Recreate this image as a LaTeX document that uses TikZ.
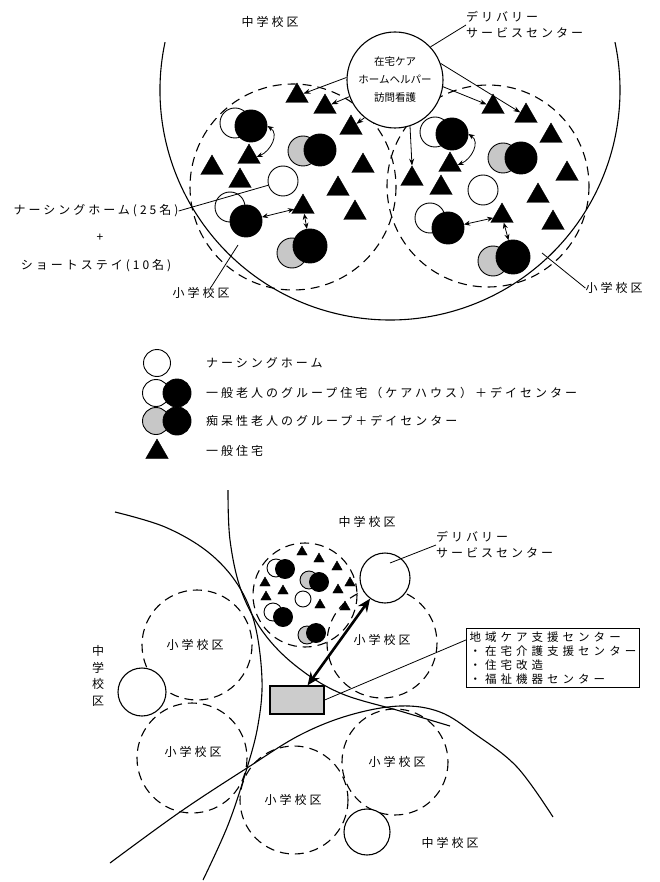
\documentclass[tikz,border=0pt]{standalone}
\usepackage{fontspec}
\setmainfont{Noto Sans CJK JP}
\newfontfamily\jp[LetterSpace=25]{Noto Sans CJK JP}
\newfontfamily\jpb[LetterSpace=35]{Noto Sans CJK JP}
\newfontfamily\jpn{Noto Sans CJK JP}
\usetikzlibrary{shapes.geometric,arrows.meta,calc}
\begin{document}
\begin{tikzpicture}[x=1pt,y=-1pt,
  big/.style={line width=1.1pt},
  dsh/.style={line width=1.1pt, dash pattern=on 9pt off 6pt},
  wc/.style={circle,draw,fill=white,line width=0.9pt,minimum size=#1,inner sep=0pt},
  bc/.style={circle,draw,fill=black,line width=0.9pt,minimum size=#1,inner sep=0pt},
  gc/.style={circle,draw,fill=black!22,line width=0.9pt,minimum size=#1,inner sep=0pt},
  tri/.style={regular polygon,regular polygon sides=3,fill=black,draw=black,line width=0.4pt,minimum size=#1,inner sep=0pt},
  lab/.style={font=\jp\fontsize{12}{16}\selectfont, inner sep=0pt},
  thinl/.style={line width=0.8pt},
  arr/.style={-{Stealth[length=7pt,width=5pt]},line width=0.8pt},
  darr/.style={{Stealth[length=6pt,width=5pt]}-{Stealth[length=6pt,width=5pt]},line width=0.8pt},
]
\useasboundingbox (0,0) rectangle (660,882);

% ================= TOP DIAGRAM =================
\draw[big] (390,90) ++(192:230) arc[start angle=192,end angle=-12,radius=230];
\draw[dsh] (293,187) circle[radius=103];
\draw[dsh] (488,186) circle[radius=101];

\node[lab] (chu1) at (270,22) {中学校区};
\node[circle,draw,fill=white,line width=1.1pt,minimum size=96,inner sep=0pt,align=center,font=\jpn\fontsize{10.5}{18}\selectfont] (hc) at (395,80) {在宅ケア\\ホームヘルパー\\訪問看護};
\node[lab,anchor=west,align=left] (deli1) at (466,25) {デリバリー\\サービスセンター};
\draw[thinl] (hc.43) -- (deli1.west);

% left cluster
\node[wc=30] (LW1) at (235,123) {};
\node[bc=32] (LB1) at (251,126) {};
\node[gc=30] (LG2) at (303,151) {};
\node[bc=32] (LB2) at (320,150) {};
\node[wc=30] (LN) at (283,181) {};
\node[wc=30] (LW3) at (230,207) {};
\node[bc=32] (LB3) at (246,221) {};
\node[gc=30] (LG4) at (292,253) {};
\node[bc=34] (LB4) at (310,246) {};
\node[tri=26] (t1) at (297,96) {};
\node[tri=26] (t2) at (325,107) {};
\node[tri=26] (t3) at (351,128) {};
\node[tri=26] (t4) at (249,157) {};
\node[tri=26] (t5) at (212,168) {};
\node[tri=26] (t6) at (240,181) {};
\node[tri=26] (t7) at (363,166) {};
\node[tri=26] (t8) at (338,189) {};
\node[tri=26] (t9) at (355,213) {};
\node[tri=26] (t10) at (303,207) {};

% right cluster
\node[wc=30] (RW1) at (435,132) {};
\node[bc=32] (RB1) at (452,134) {};
\node[gc=30] (RG2) at (503,158) {};
\node[bc=32] (RB2) at (521,158) {};
\node[wc=30] (RN) at (483,190) {};
\node[wc=30] (RW3) at (430,218) {};
\node[bc=32] (RB3) at (448,228) {};
\node[gc=30] (RG4) at (493,261) {};
\node[bc=34] (RB4) at (513,257) {};
\node[tri=26] (r1) at (493,107) {};
\node[tri=26] (r2) at (526,116) {};
\node[tri=26] (r3) at (551,136) {};
\node[tri=26] (r4) at (450,165) {};
\node[tri=26] (r5) at (412,179) {};
\node[tri=26] (r6) at (441,188) {};
\node[tri=26] (r7) at (567,174) {};
\node[tri=26] (r8) at (538,196) {};
\node[tri=26] (r9) at (553,223) {};
\node[tri=26] (r10) at (502,216) {};

% arrows from home care
\draw[arr] (hc.177) -- (t1);
\draw[arr] (hc.200) -- (t2);
\draw[arr] (hc.231) -- (t3);
\draw[arr] (hc.-8) -- (r1);
\draw[arr] (hc.20) -- (r2);
\draw[arr] (hc.-72) -- (r5.north);
% links
\draw[darr] (LB1.east) .. controls +(12,8) and +(14,-6) .. (t4.east);
\draw[darr] (RB1.east) .. controls +(12,8) and +(14,-6) .. (r4.east);
\draw[darr] (LB3) -- (t10);
\draw[darr] (t10) -- (LB4);
\draw[darr] (RB3) -- (r10);
\draw[darr] (r10) -- (RB4);

% labels left
\node[lab] (nh) at (96,211) {ナーシングホーム(25名)};
\node[lab] (plus) at (100,238) {+};
\node[lab] (ss) at (96,266) {ショートステイ(10名)};
\draw[thinl] (nh.east) -- (LN);
\node[lab] (sl) at (201,293) {小学校区};
\coordinate (slp) at (238,245);
\draw[thinl] ([xshift=10pt]sl.north) -- (slp);
\node[lab] (sr) at (614,288) {小学校区};
\coordinate (srp) at (542,253);
\draw[thinl] (sr.west) -- (srp);

% ================= LEGEND =================
\node[wc=27] (lg1) at (157,363) {};
\node[wc=27] (lg2w) at (156,393) {};
\node[bc=28] (lg2b) at (177,393) {};
\node[gc=27] (lg3g) at (156,421) {};
\node[bc=28] (lg3b) at (177,421) {};
\node[tri=26] (lg4) at (157,452) {};
\node[lab,anchor=west] (lt1) at (206,363) {ナーシングホーム};
\node[lab,anchor=west] (lt2) at (206,393) {一般老人のグループ住宅（ケアハウス）＋デイセンター};
\node[lab,anchor=west] (lt3) at (206,421) {痴呆性老人のグループ＋デイセンター};
\node[lab,anchor=west] (lt4) at (206,451) {一般住宅};

% ================= BOTTOM DIAGRAM =================
\draw[big] plot[smooth,tension=0.6] coordinates {(115,512) (165,527) (208,552) (238,585) (255,625) (262,680) (258,725) (247,768) (228,825) (203,880)};
\draw[big] plot[smooth,tension=0.6] coordinates {(228,490) (230,540) (241,590) (263,632) (296,666) (340,693) (400,711) (450,726)};
\draw[big] plot[smooth,tension=0.6] coordinates {(110,863) (180,812) (247,768) (300,735) (350,715) (400,706) (440,712) (475,734) (517,767) (553,817)};

\draw[dsh] (305,595) circle[radius=52];
\draw[dsh] (382,643) circle[radius=55];
\draw[dsh] (197,645) circle[radius=55];
\draw[dsh] (192,758) circle[radius=55];
\draw[dsh] (294,800) circle[radius=54];
\draw[dsh] (395,762) circle[radius=53];

\node[lab] (s2) at (382,640) {小学校区};
\node[lab] (s3) at (195,645) {小学校区};
\node[lab] (s4) at (193,752) {小学校区};
\node[lab] (s5) at (293,800) {小学校区};
\node[lab] (s6) at (397,762) {小学校区};

\node[circle,draw,fill=white,line width=1.1pt,minimum size=50,inner sep=0pt] (S1) at (385,578) {};
\node[circle,draw,fill=white,line width=1.1pt,minimum size=48,inner sep=0pt] (S2) at (142,692) {};
\node[circle,draw,fill=white,line width=1.1pt,minimum size=46,inner sep=0pt] (S3) at (367,832) {};

\node[lab] (chu2) at (367,522) {中学校区};
\node[lab,align=center,font=\jpn\fontsize{12}{16.5}\selectfont] (chu3) at (98,676) {中\\学\\校\\区};
\node[lab] (chu4) at (450,843) {中学校区};

\node[lab,anchor=west,align=left] (deli2) at (436,545) {デリバリー\\サービスセンター};
\coordinate (s1in) at (390,563);
\draw[thinl] (s1in) -- (deli2.west);

% cluster in D1
\node[tri=12] (u1) at (302,552) {};
\node[tri=12] (u2) at (319,559) {};
\node[tri=12] (u3) at (337,567) {};
\node[tri=12] (u4) at (265,583) {};
\node[tri=12] (u5) at (283,591) {};
\node[tri=12] (u6) at (350,583) {};
\node[tri=12] (u7) at (266,597) {};
\node[tri=12] (u8) at (338,590) {};
\node[tri=12] (u9) at (320,605) {};
\node[tri=12] (u10) at (345,607) {};
\node[wc=18] (pAw) at (276,568) {};
\node[bc=19] (pAb) at (285,569) {};
\node[gc=18] (pBg) at (309,580) {};
\node[bc=19] (pBb) at (319,582) {};
\node[wc=16] (pN) at (303,599) {};
\node[wc=18] (pCw) at (273,612) {};
\node[bc=19] (pCb) at (283,617) {};
\node[gc=18] (pDg) at (307,635) {};
\node[bc=19] (pDb) at (316,633) {};

% centre
\node[draw,line width=1.3pt,fill=black!20,minimum width=54,minimum height=28,inner sep=0pt] (rect) at (297,700) {};
\node[draw,line width=1.1pt,anchor=north west,align=left,inner sep=3pt,font=\jpb\fontsize{11.5}{14}\selectfont] (box) at (466,628) {地域ケア支援センター\\・在宅介護支援センター\\・住宅改造\\・福祉機器センター};
\draw[thinl] ($(box.north west)!0.2!(box.south west)$) -- (rect.east);
\draw[line width=2.6pt,{Stealth[length=13pt,width=11pt]}-{Stealth[length=13pt,width=11pt]}] (rect) -- (S1);
\end{tikzpicture}
\end{document}
